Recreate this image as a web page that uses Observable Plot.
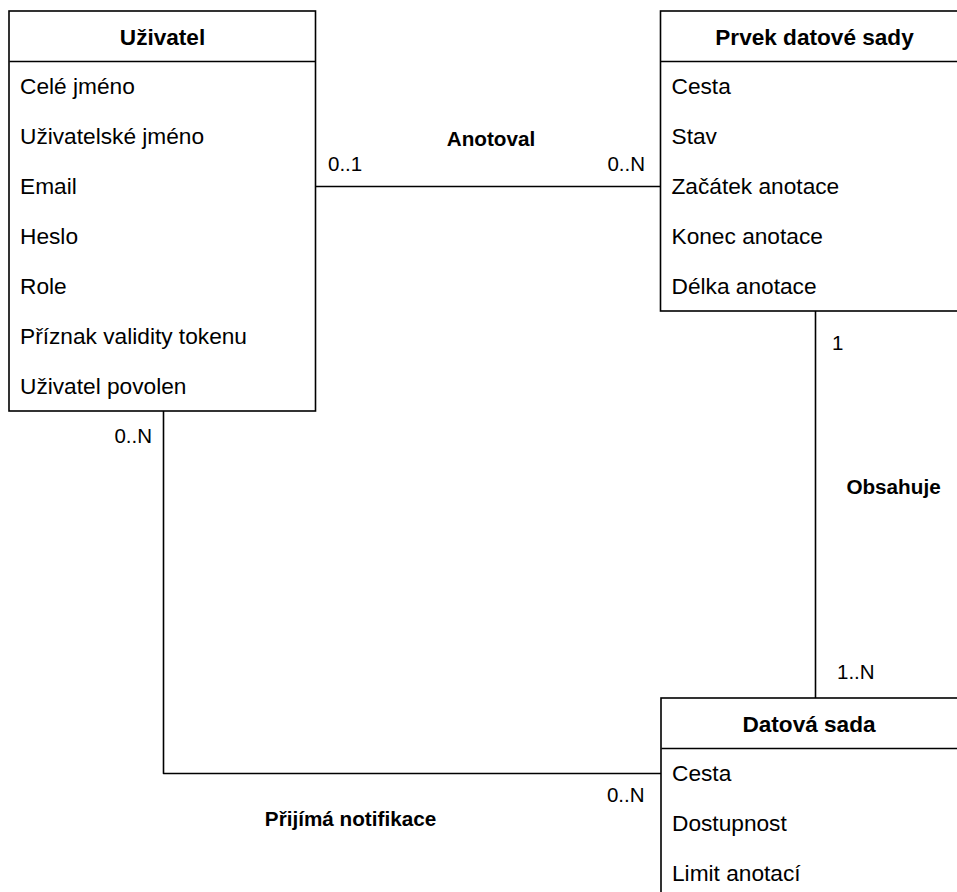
<!DOCTYPE html>
<html>
<head>
<meta charset="utf-8">
<script src="https://cdn.jsdelivr.net/npm/d3@7"></script>
<script src="https://cdn.jsdelivr.net/npm/@observablehq/plot@0.6"></script>
<style>
  html, body { margin: 0; padding: 0; background: #fff; overflow: hidden; }
  #chart svg { display: block; }
</style>
</head>
<body>
<div id="chart"></div>
<script>
// ---- Data ----
const entityNames = ["Uživatel", "Prvek datové sady", "Datová sada"];
const userAttributes = ["Celé jméno", "Uživatelské jméno", "Email", "Heslo", "Role", "Příznak validity tokenu", "Uživatel povolen"];
const itemAttributes = ["Cesta", "Stav", "Začátek anotace", "Konec anotace", "Délka anotace"];
const datasetAttributes = ["Cesta", "Dostupnost", "Limit anotací"];
const relationNames = ["Anotoval", "Obsahuje", "Přijímá notifikace"];
const cardinalityFrom = ["0..1", "1", "0..N"];
const cardinalityTo = ["0..N", "1..N", "0..N"];

// ---- Layout (positions, sizes) ----
const W = 957, H = 892, ROW = 50;
const boxLayout = [
  {x: 9, y: 11, w: 306.5, labelX: 162},
  {x: 660.5, y: 11, w: 300, labelX: 814},
  {x: 661, y: 698, w: 300, labelX: 808.5}
];
const attrLists = [userAttributes, itemAttributes, datasetAttributes];

const entities = entityNames.map((name, i) => {
  const b = boxLayout[i];
  const attrs = attrLists[i];
  return {name, x1: b.x, x2: b.x + b.w, y1: b.y, yh: b.y + ROW, y2: b.y + ROW * (attrs.length + 1), attrs, labelX: b.labelX};
});
const headerTexts = entities.map(e => ({text: e.name, x: e.labelX, y: e.y1 + ROW / 2 + 1.5}));
const attrTexts = entities.flatMap(e => e.attrs.map((a, j) => ({text: a, x: e.x1 + 10.5, y: e.yh + ROW * j + ROW / 2 + 0.5})));

const U = entities[0], P = entities[1], D = entities[2];
const edgeY1 = U.yh + ROW * 2 + ROW / 2;       // Email row
const edgeX2 = 815;
const edgeX3 = 163;
const edgeY3 = D.yh + ROW / 2;                 // Cesta row
const edges = [
  {id: 0, x: U.x2, y: edgeY1}, {id: 0, x: P.x1, y: edgeY1},
  {id: 1, x: edgeX2, y: P.y2}, {id: 1, x: edgeX2, y: D.y1},
  {id: 2, x: edgeX3, y: U.y2}, {id: 2, x: edgeX3, y: edgeY3}, {id: 2, x: D.x1, y: edgeY3}
];
const relLabels = [
  {text: relationNames[0], x: 490.5, y: 138.5},
  {text: relationNames[1], x: 893, y: 487},
  {text: relationNames[2], x: 350, y: 819}
];
const cardLabels = [
  {text: cardinalityFrom[0], x: 327.5, y: 163.5, anchor: "start"},
  {text: cardinalityTo[0], x: 644.5, y: 163.5, anchor: "end"},
  {text: cardinalityFrom[1], x: 831.5, y: 343, anchor: "start"},
  {text: cardinalityTo[1], x: 836.5, y: 671.5, anchor: "start"},
  {text: cardinalityFrom[2], x: 151.5, y: 435.5, anchor: "end"},
  {text: cardinalityTo[2], x: 644, y: 794.5, anchor: "end"}
];

const FONT = "'Liberation Sans', Arial, Helvetica, sans-serif";
const chart = Plot.plot({
  width: W,
  height: H,
  margin: 0,
  x: {domain: [0, W], range: [0, W], axis: null},
  y: {domain: [0, H], range: [0, H], axis: null},
  style: {fontFamily: FONT, background: "#fff", color: "#000", overflow: "hidden"},
  marks: [
    Plot.line(edges, {x: "x", y: "y", z: "id", stroke: "#000", strokeWidth: 1.6, curve: "linear"}),
    Plot.rect(entities, {x1: "x1", x2: "x2", y1: "y1", y2: "y2", fill: "#fff", stroke: "#000", strokeWidth: 1.6}),
    Plot.link(entities, {x1: "x1", x2: "x2", y1: "yh", y2: "yh", stroke: "#000", strokeWidth: 1.6}),
    Plot.text(headerTexts, {x: "x", y: "y", text: "text", fontSize: 22.6, fontWeight: "bold", fill: "#000", lineAnchor: "middle"}),
    Plot.text(attrTexts, {x: "x", y: "y", text: "text", fontSize: 22.7, textAnchor: "start", fill: "#000", lineAnchor: "middle"}),
    Plot.text(relLabels, {x: "x", y: "y", text: "text", fontSize: 20.7, fontWeight: "bold", fill: "#000", lineAnchor: "middle"}),
    Plot.text(cardLabels.filter(d => d.anchor === "start"), {x: "x", y: "y", text: "text", fontSize: 20.5, textAnchor: "start", fill: "#000", lineAnchor: "middle"}),
    Plot.text(cardLabels.filter(d => d.anchor === "end"), {x: "x", y: "y", text: "text", fontSize: 20.5, textAnchor: "end", fill: "#000", lineAnchor: "middle"})
  ]
});
document.getElementById("chart").appendChild(chart);
</script>
</body>
</html>
